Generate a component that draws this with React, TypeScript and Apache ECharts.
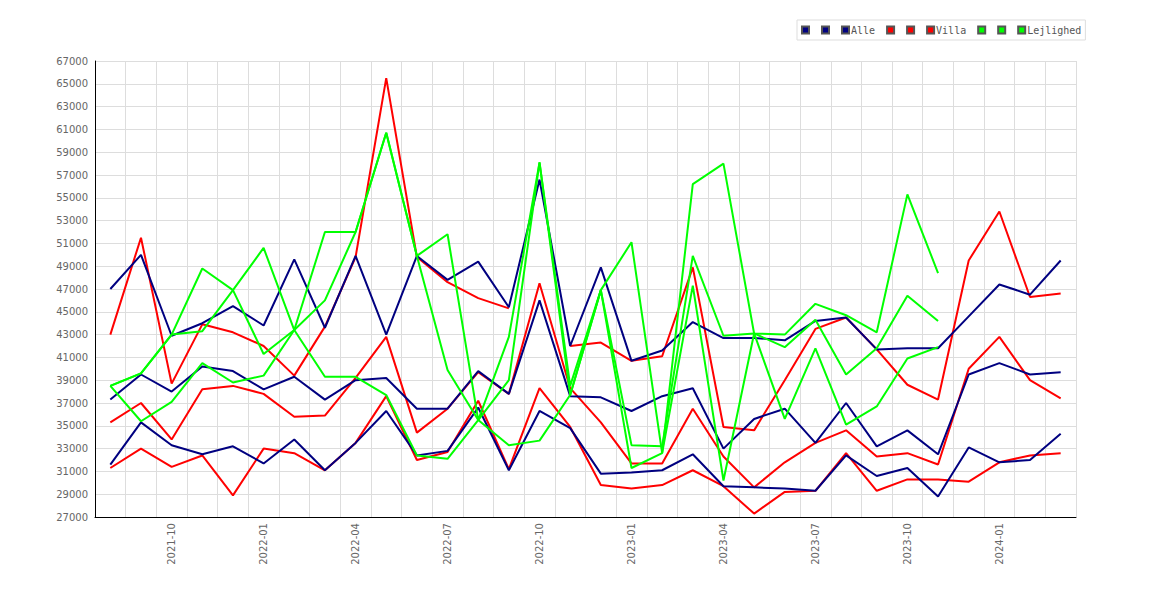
import React, { useEffect, useRef } from "react";
import * as echarts from "echarts";

const months = [
  "2021-08", "2021-09", "2021-10", "2021-11", "2021-12",
  "2022-01", "2022-02", "2022-03", "2022-04", "2022-05", "2022-06", "2022-07", "2022-08", "2022-09", "2022-10", "2022-11", "2022-12",
  "2023-01", "2023-02", "2023-03", "2023-04", "2023-05", "2023-06", "2023-07", "2023-08", "2023-09", "2023-10", "2023-11", "2023-12",
  "2024-01", "2024-02", "2024-03",
];

const alleA = [47000, 50000, 42900, 44000, 45500, 43800, 49600, 43600, 49900, 43000, 49900, 47800, 49400, 45400, 56600, 42000, 48900, 40700, 41600, 44100, 42700, 42700, 42500, 44200, 44500, 41700, 41800, 41800, 44600, 47400, 46500, 49500];
const alleB = [37300, 39500, 38000, 40200, 39800, 38200, 39300, 37300, 39000, 39200, 36500, 36500, 39800, 37800, 46000, 37600, 37500, 36300, 37600, 38300, 33000, 35600, 36500, 33500, 37000, 33200, 34600, 32500, 39500, 40500, 39500, 39700];
const alleC = [31600, 35300, 33300, 32500, 33200, 31700, 33800, 31100, 33500, 36300, 32400, 32800, 36600, 31100, 36300, 34800, 30800, 30900, 31100, 32500, 29700, 29600, 29500, 29300, 32400, 30600, 31300, 28800, 33100, 31800, 32000, 34300];

const villaA = [43000, 51500, 38700, 43900, 43200, 42000, 39400, 43700, 49800, 65500, 49800, 47600, 46200, 45300, null, 42000, 42300, 40700, 41100, 48900, 34900, 34600, 39000, 43500, 44500, 41700, 38600, 37300, 49500, 53800, 46300, 46600];
const villaB = [35300, 37000, 33800, 38200, 38500, 37800, 35800, 35900, 39200, 42800, 34400, 36500, 39700, 37800, 47500, 38300, 35300, 31700, 31700, 36500, 32300, 29600, 31800, 33500, 34600, 32300, 32600, 31600, 40000, 42800, 39000, 37400];
const villaC = [31300, 33000, 31400, 32400, 28900, 33000, 32600, 31100, 33500, 37600, 32000, 32700, 37200, 31200, 38300, 34900, 29800, 29500, 29800, 31100, 29700, 27300, 29200, 29300, 32600, 29300, 30300, 30300, 30100, 31800, 32400, 32600];

const lejA = [38500, 39600, 43000, 48800, 46900, 41300, 43400, 46000, 52000, 60700, 49900, 51800, 35500, 42800, 58100, 38500, 46900, 51100, 32600, 56200, 58000, 43100, 43000, 45700, 44700, 43200, 55300, 48400, null, null, null, null];
const lejB = [38500, 39600, 43000, 43300, 46900, 50600, 43400, 39300, 39300, 37700, 32400, 32100, 35500, 33300, 33700, 37700, 46900, 33300, 33200, 49900, 42900, 43100, 41900, 44300, 39500, 41800, 46400, 44200, null, null, null, null];
const lejC = [38500, 35400, 37100, 40500, 38800, 39400, 43400, 52000, 52000, 60700, 49900, 39900, 35500, 39000, 58100, 37700, 46900, 31300, 32600, 47300, 30200, 43100, 35600, 41800, 35100, 36700, 40900, 41900, null, null, null, null];

const groupNames = ["Alle", "Villa", "Lejlighed"];
const groupColors = ["#000080", "#ff0000", "#00ff00"];
const groupData = [
  [alleA, alleB, alleC],
  [villaA, villaB, villaC],
  [lejA, lejB, lejC],
];

export default function App() {
  const ref = useRef<HTMLDivElement>(null);
  useEffect(() => {
    if (!ref.current) return;
    const chart = echarts.init(ref.current, null, { renderer: "svg" });
    const series: any[] = [];
    const legendData: string[] = [];
    groupNames.forEach((g, gi) => {
      groupData[gi].forEach((arr, k) => {
        const name = k === 2 ? g : g + "_" + (k + 1);
        legendData.push(name);
        series.push({
          name,
          type: "line",
          data: arr,
          showSymbol: false,
          symbol: "rect",
          connectNulls: false,
          color: groupColors[gi],
          lineStyle: { color: groupColors[gi], width: 2 },
          itemStyle: { color: groupColors[gi], borderColor: "#555", borderWidth: 1 },
          z: gi === 0 ? 4 : gi === 1 ? 3 : 5,
        });
      });
    });
    chart.setOption({
      animation: false,
      backgroundColor: "#ffffff",
      textStyle: { fontFamily: "DejaVu Sans" },
      legend: {
        data: legendData.map((n) => ({ name: n, icon: "rect" })),
        left: 797,
        top: 20,
        padding: [5, 4, 5, 4],
        itemWidth: 7,
        itemHeight: 7,
        itemGap: 11,
        borderColor: "#dddddd",
        borderWidth: 1,
        borderRadius: 0,
        selectedMode: false,
        formatter: (n: string) => (groupNames.includes(n) ? n : ""),
        textStyle: { fontFamily: "DejaVu Sans Mono", fontSize: 10, color: "#555555", padding: [0, 0, 0, -3] },
      },
      grid: { left: 95, right: 94, top: 61, bottom: 83, containLabel: false },
      xAxis: {
        type: "category",
        data: months,
        boundaryGap: true,
        axisLine: { lineStyle: { color: "#000000", width: 1 } },
        axisTick: { show: false },
        axisLabel: {
          rotate: 90,
          interval: (i: number) => (i - 2) % 3 === 0,
          fontFamily: "DejaVu Sans",
          fontSize: 10,
          color: "#666666",
          margin: 6,
        },
        splitLine: { show: true, interval: 0, lineStyle: { color: "#dddddd", width: 1 } },
      },
      yAxis: {
        type: "value",
        min: 27000,
        max: 67000,
        interval: 2000,
        axisLine: { show: true, lineStyle: { color: "#000000", width: 1 } },
        axisTick: { show: false },
        axisLabel: {
          fontFamily: "DejaVu Sans",
          fontSize: 10,
          color: "#666666",
          margin: 7,
          formatter: (v: number) => String(v),
        },
        splitLine: { show: true, lineStyle: { color: "#dddddd", width: 1 } },
      },
      series,
    });
    return () => chart.dispose();
  }, []);
  return (
    <div
      ref={ref}
      style={{ position: "fixed", left: 0, top: 0, width: 1170, height: 600, background: "#fff" }}
    />
  );
}
